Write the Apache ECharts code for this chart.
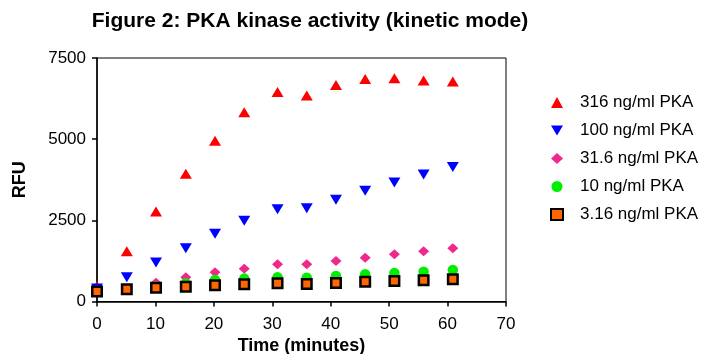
<!DOCTYPE html>
<html><head><meta charset="utf-8">
<script src="https://cdn.jsdelivr.net/npm/echarts@6/dist/echarts.min.js"></script>
<style>html,body{margin:0;padding:0;background:#fff}#c{width:715px;height:354px}</style>
</head><body><div id="c"></div>
<script>
const time = [0, 5.1, 10.1, 15.2, 20.2, 25.2, 30.9, 35.9, 40.9, 45.9, 50.9, 55.9, 60.9];
const pka316 = [480, 1550, 2770, 3935, 4955, 5830, 6455, 6345, 6670, 6855, 6875, 6805, 6775];
const pka100 = [400, 745, 1200, 1640, 2085, 2485, 2845, 2875, 3135, 3410, 3665, 3915, 4140];
const pka31_6 = [300, 380, 580, 745, 900, 1010, 1150, 1145, 1250, 1345, 1455, 1550, 1640];
const pka10 = [330, 380, 470, 560, 660, 705, 745, 730, 785, 840, 880, 920, 970];
const pka3_16 = [305, 375, 425, 455, 500, 530, 560, 540, 570, 610, 635, 655, 685];
const seriesNames = ['316 ng/ml PKA', '100 ng/ml PKA', '31.6 ng/ml PKA', '10 ng/ml PKA', '3.16 ng/ml PKA'];
const xTicks = {min: 0, max: 70, interval: 10};
const yTicks = {min: 0, max: 7500, interval: 2500};

const pair = v => time.map((t, i) => [t, v[i]]);
const font = 'Liberation Sans, Arial, sans-serif';
const downTri = 'path://M0,0L12,0L6,10Z';
const chart = echarts.init(document.getElementById('c'));
chart.setOption({
  animation: false,
  title: {
    text: 'Figure 2: PKA kinase activity (kinetic mode)',
    left: 305, top: 6, textAlign: 'center',
    textStyle: {fontFamily: font, fontSize: 21, fontWeight: 'bold', color: '#000'}
  },
  grid: {left: 97, top: 58, right: 209, bottom: 52.5, show: true, borderColor: '#000', borderWidth: 1, containLabel: false, outerBoundsMode: 'none'},
  legend: {
    orient: 'vertical', left: 545, top: 88.5, itemGap: 10, itemWidth: 12, itemHeight: 11,
    data: seriesNames,
    textStyle: {fontFamily: font, fontSize: 17, lineHeight: 18, color: '#000', padding: [0, 0, 0, 12]}
  },
  xAxis: {
    type: 'value', min: xTicks.min, max: xTicks.max, interval: xTicks.interval,
    name: 'Time (minutes)', nameLocation: 'middle', nameGap: 35,
    nameTextStyle: {fontFamily: font, fontSize: 18, fontWeight: 'bold', color: '#000'},
    axisLine: {lineStyle: {color: '#000', width: 1.5}},
    axisTick: {length: 5, lineStyle: {color: '#000', width: 1.5}},
    axisLabel: {fontFamily: font, fontSize: 17, color: '#000', margin: 14},
    splitLine: {show: false}
  },
  yAxis: {
    type: 'value', min: yTicks.min, max: yTicks.max, interval: yTicks.interval,
    name: 'RFU', nameLocation: 'middle', nameGap: 68,
    nameTextStyle: {fontFamily: font, fontSize: 18, fontWeight: 'bold', color: '#000'},
    axisLine: {lineStyle: {color: '#000', width: 1.5}},
    axisTick: {length: 5, lineStyle: {color: '#000', width: 1.5}},
    axisLabel: {fontFamily: font, fontSize: 17, color: '#000', margin: 11, formatter: v => String(v)},
    splitLine: {show: false}
  },
  series: [
    {name: seriesNames[0], type: 'scatter', data: pair(pka316), symbol: 'triangle', symbolSize: [12, 10], itemStyle: {color: '#ff0000', opacity: 1}},
    {name: seriesNames[1], type: 'scatter', data: pair(pka100), symbol: downTri, symbolSize: [12, 10], itemStyle: {color: '#0000ff', opacity: 1}},
    {name: seriesNames[2], type: 'scatter', data: pair(pka31_6), symbol: 'diamond', symbolSize: [11, 10], itemStyle: {color: '#f0288c', opacity: 1}},
    {name: seriesNames[3], type: 'scatter', data: pair(pka10), symbol: 'circle', symbolSize: 10.5, itemStyle: {color: '#00ee00', opacity: 1}},
    {name: seriesNames[4], type: 'scatter', data: pair(pka3_16), symbol: 'rect', symbolSize: 9.5, itemStyle: {color: '#ff6600', borderColor: '#000', borderWidth: 2.5, opacity: 1}}
  ]
});
</script></body></html>
